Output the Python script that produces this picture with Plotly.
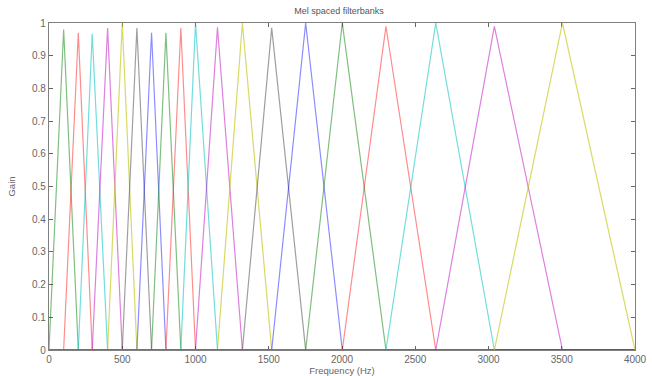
import plotly.graph_objects as go

# Filter edge frequencies (Hz): filter k rises from edges[k] to edges[k+1], falls to edges[k+2]
edges = [0, 100, 200, 295, 400, 500, 600, 700, 798, 900, 1000, 1150, 1320, 1520,
         1752, 2002, 2300, 2640, 3040, 3505, 4000]
# Peak gain reached by each filter on the sampled frequency grid
peaks = [0.98, 0.97, 0.967, 0.985, 1.0, 0.985, 0.97, 0.97, 0.985, 1.0,
         0.987, 1.0, 0.985, 1.0, 1.0, 0.99, 1.0, 0.99, 1.0]
# MATLAB-style line colour cycle (starting at green)
colors = ["rgba(0,128,0,0.5)", "rgba(255,0,0,0.45)", "rgba(0,191,191,0.55)",
          "rgba(191,0,191,0.5)", "rgba(191,191,0,0.6)", "rgba(64,64,64,0.5)",
          "rgba(0,0,255,0.45)"]
f_min, f_max = 0, 4000

x_ticks = [0, 500, 1000, 1500, 2000, 2500, 3000, 3500, 4000]
y_ticks = [0, 0.1, 0.2, 0.3, 0.4, 0.5, 0.6, 0.7, 0.8, 0.9, 1]
y_tick_text = ["0", "0.1", "0.2", "0.3", "0.4", "0.5", "0.6", "0.7", "0.8", "0.9", "1"]

fig = go.Figure()
for k, pk in enumerate(peaks):
    lo, mid, hi = edges[k], edges[k + 1], edges[k + 2]
    # each filter spans the full frequency range, zero outside its triangle
    xs = [f_min, lo, mid, hi, f_max]
    ys = [0, 0, pk, 0, 0]
    fig.add_trace(go.Scatter(x=xs, y=ys, mode="lines",
                             line=dict(color=colors[k % len(colors)], width=1.2),
                             showlegend=False, hoverinfo="skip"))

font = dict(family="Liberation Sans, Arial, sans-serif", size=10, color="#666666")
axis_common = dict(showgrid=False, zeroline=False, showline=True, linecolor="#808080",
                   linewidth=1.2, mirror="ticks", ticks="inside", ticklen=4,
                   tickcolor="#666666", layer="below traces", tickfont=font,
                   automargin=False)

fig.update_layout(
    width=652, height=376,
    margin=dict(l=49, r=17, t=23, b=26),
    paper_bgcolor="white", plot_bgcolor="white",
    title=dict(text="Mel spaced filterbanks", x=0.52, xanchor="center",
               y=0.97, yanchor="middle",
               font=dict(family=font["family"], size=9, color="#555555")),
    xaxis=dict(range=[f_min, f_max], tickvals=x_ticks, **axis_common,
               title=dict(text="Frequency (Hz)", font=dict(font, size=9.5), standoff=0)),
    yaxis=dict(range=[0, 1], tickvals=y_ticks, ticktext=y_tick_text, **axis_common,
               title=dict(text="Gain", font=dict(font, size=9.5), standoff=14)),
)

fig.write_html("out.html")
